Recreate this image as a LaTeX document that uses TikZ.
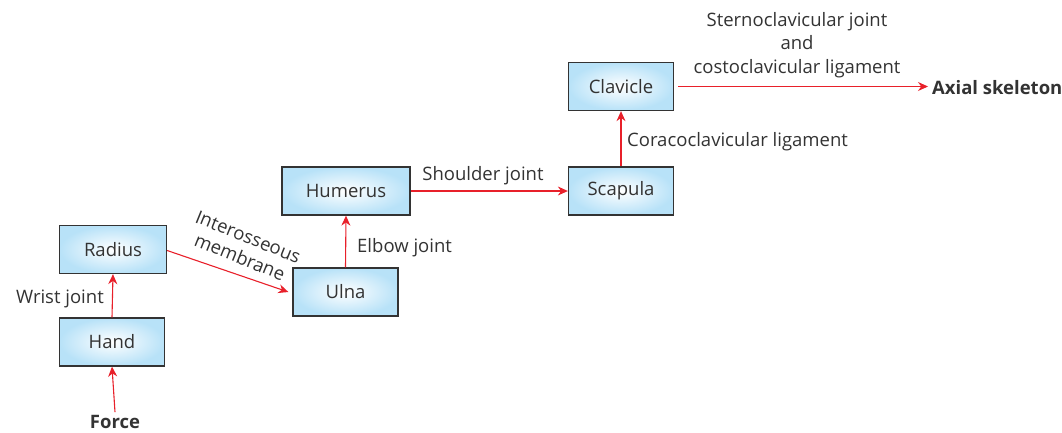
\documentclass[tikz,border=0pt]{standalone}
\usepackage{fontspec}
\setmainfont{Open Sans}
\usetikzlibrary{arrows.meta}
\definecolor{boxblue}{HTML}{B8E2F8}
\definecolor{arrred}{HTML}{E8202A}
\definecolor{txt}{HTML}{333333}
\begin{document}
\begin{tikzpicture}[x=1pt,y=-1pt,
  bone/.style={draw=txt, line width=1.3pt, inner color=white, outer color=boxblue,
    minimum width=105pt, minimum height=48pt, font=\fontsize{18.5}{21}\selectfont, text=txt},
  arr/.style={draw=arrred, line width=1.1pt, -{Stealth[length=10pt,width=9pt]}},
  lbl/.style={font=\fontsize{18.5}{21}\selectfont, text=txt, inner sep=0pt},
  bold/.style={font=\fontsize{18.5}{21}\selectfont\bfseries, text=txt, inner sep=0pt}]
\useasboundingbox (0,0) rectangle (1062,432);
\node[bone] (hand) at (112,342) {Hand};
\node[bone, minimum width=107pt] (radius) at (113,249.5) {Radius};
\node[bone] (ulna) at (345.5,292) {Ulna};
\node[bone, minimum width=128pt] (humerus) at (346,191) {Humerus};
\node[bone] (scapula) at (621,191) {Scapula};
\node[bone] (clavicle) at (621,86.5) {Clavicle};
\node[bold] (force) at (115,422) {Force};
\node[bold, anchor=west] (axial) at (932,88) {Axial skeleton};
\coordinate (axend) at (928,86.5);
\draw[arr] (force.north) ++(0,-3) coordinate (fs) (fs) -- (hand.south);
\draw[arr] (hand.north) -- (radius.south);
\draw[arr] ([yshift=-1pt]radius.east) -- ([xshift=-4pt]ulna.west);
\draw[arr] (ulna.north) -- (humerus.south);
\draw[arr] (humerus.east) -- (scapula.west);
\draw[arr] (scapula.north) -- (clavicle.south);
\draw[arr] ([xshift=4pt]clavicle.east) -- (axend);
\node[lbl, anchor=east] (wrist) at (104,299) {Wrist joint};
\node[lbl, rotate=-22, align=center, font=\fontsize{18.5}{22}\selectfont] (inter) at (244,247) {Interosseous\\membrane};
\node[lbl, anchor=west] (elbow) at (357,248) {Elbow joint};
\node[lbl] (shoulder) at (483,176) {Shoulder joint};
\node[lbl, anchor=west] (coraco) at (627,142) {Coracoclavicular ligament};
\node[lbl, align=center, font=\fontsize{18.5}{23.5}\selectfont] (sterno) at (797,45) {Sternoclavicular joint\\and\\costoclavicular ligament};
\end{tikzpicture}
\end{document}
